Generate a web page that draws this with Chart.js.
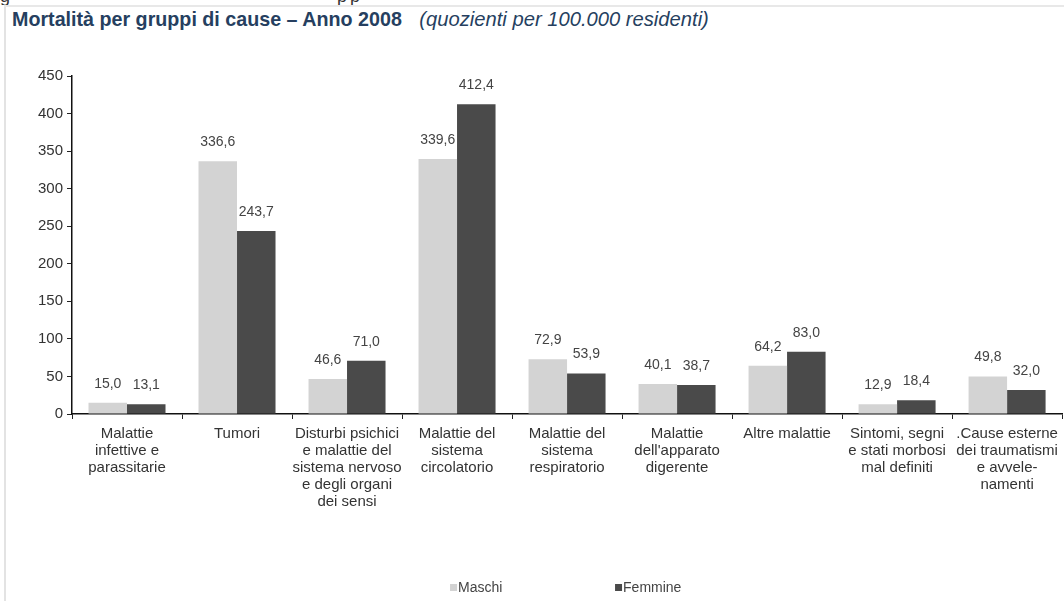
<!DOCTYPE html>
<html><head><meta charset="utf-8">
<script src="https://cdn.jsdelivr.net/npm/chart.js@4/dist/chart.umd.min.js"></script>
<style>
html,body{margin:0;padding:0;background:#fff;width:1064px;height:601px;overflow:hidden;font-family:"Liberation Sans",Arial,sans-serif}
#wrap{position:relative;width:1064px;height:601px}
#frameL{position:absolute;left:4px;top:6px;width:2px;height:595px;background:#e3e3e3}
#frameT{position:absolute;left:4px;top:5px;width:1060px;height:2px;background:#e8e8e8}
#frag{position:absolute;left:0;top:0;width:1064px;height:5px;overflow:hidden}
#frag span{position:absolute;top:-14px;font-size:18px;color:#333}
#title{position:absolute;left:12px;top:8px;font-size:19.7px;color:#263f60;white-space:nowrap}
#title b{font-weight:bold}
#title i{font-weight:normal;font-style:italic;font-size:20.2px;margin-left:12px}
canvas{position:absolute;left:0;top:0}
</style></head>
<body><div id="wrap">
<div id="frag"><span style="left:0">g</span><span style="left:337px">p</span><span style="left:350px">p</span></div>
<div id="frameL"></div><div id="frameT"></div>
<div id="title"><b>Mortalità per gruppi di cause – Anno 2008</b> <i>(quozienti per 100.000 residenti)</i></div>
<canvas id="c" width="1064" height="601"></canvas>
</div>
<script>
const categories = [
  ["Malattie", "infettive e", "parassitarie"],
  ["Tumori"],
  ["Disturbi psichici", "e malattie del", "sistema nervoso", "e degli organi", "dei sensi"],
  ["Malattie del", "sistema", "circolatorio"],
  ["Malattie del", "sistema", "respiratorio"],
  ["Malattie", "dell'apparato", "digerente"],
  ["Altre malattie"],
  ["Sintomi, segni", "e stati morbosi", "mal definiti"],
  [".Cause esterne", "dei traumatismi", "e avvele-", "namenti"]
];
const seriesNames = ["Maschi", "Femmine"];
const maschi  = [15.0, 336.6, 46.6, 339.6, 72.9, 40.1, 64.2, 12.9, 49.8];
const femmine = [13.1, 243.7, 71.0, 412.4, 53.9, 38.7, 83.0, 18.4, 32.0];
const yTicks = [0, 50, 100, 150, 200, 250, 300, 350, 400, 450];
const colors = ["#d3d3d3", "#4a4a4a"];

const fmt = v => v.toFixed(1).replace('.', ',');

const valueLabels = {
  id: 'valueLabels',
  afterDatasetsDraw(chart) {
    const ctx = chart.ctx;
    ctx.save();
    ctx.font = '14px "Liberation Sans", Arial, sans-serif';
    ctx.fillStyle = '#444';
    ctx.textAlign = 'center';
    ctx.textBaseline = 'middle';
    chart.data.datasets.forEach((ds, di) => {
      chart.getDatasetMeta(di).data.forEach((bar, i) => {
        ctx.fillText(fmt(ds.data[i]), bar.x, bar.y - 19);
      });
    });
    ctx.restore();
  }
};

const bottomLegend = {
  id: 'bottomLegend',
  afterDraw(chart) {
    const ctx = chart.ctx;
    const ca = chart.chartArea;
    const cx = (ca.left + ca.right) / 2;
    const offs = [-117, 48];
    ctx.save();
    ctx.font = '14px "Liberation Sans", Arial, sans-serif';
    ctx.textBaseline = 'middle';
    ctx.textAlign = 'left';
    chart.data.datasets.forEach((ds, di) => {
      const x = cx + offs[di];
      const y = 588;
      ctx.fillStyle = ds.backgroundColor;
      ctx.fillRect(x, y - 4, 7, 7);
      ctx.fillStyle = '#444';
      ctx.fillText(ds.label, x + 8, y);
    });
    ctx.restore();
  }
};

new Chart(document.getElementById('c'), {
  type: 'bar',
  data: {
    labels: categories,
    datasets: [
      { label: seriesNames[0], data: maschi, backgroundColor: colors[0] },
      { label: seriesNames[1], data: femmine, backgroundColor: colors[1] }
    ]
  },
  options: {
    responsive: false,
    animation: false,
    devicePixelRatio: 1,
    layout: { padding: { top: 76, left: 0, right: 1, bottom: 0 } },
    datasets: { bar: { categoryPercentage: 0.70, barPercentage: 1.0 } },
    plugins: { legend: { display: false }, tooltip: { enabled: false }, title: { display: false } },
    scales: {
      x: {
        afterFit(s) { s.height = 187; },
        grid: { display: true, drawOnChartArea: false, drawTicks: true, tickLength: 5, color: '#222', offset: true },
        border: { display: true, color: '#111', width: 1.5 },
        ticks: {
          autoSkip: false, maxRotation: 0, minRotation: 0, padding: 6,
          color: '#333',
          font: { size: 15, family: '"Liberation Sans", Arial, sans-serif', lineHeight: 17 / 15 }
        }
      },
      y: {
        min: 0, max: 450,
        afterFit(s) { s.width = 72; },
        afterBuildTicks(s) { s.ticks = yTicks.map(v => ({ value: v })); },
        grid: { display: true, drawOnChartArea: false, drawTicks: true, tickLength: 5, color: '#222' },
        border: { display: true, color: '#111', width: 1.5 },
        ticks: {
          padding: 4, color: '#333',
          font: { size: 15, family: '"Liberation Sans", Arial, sans-serif' },
          callback: v => String(v)
        }
      }
    }
  },
  plugins: [valueLabels, bottomLegend]
});
</script>
</body></html>
